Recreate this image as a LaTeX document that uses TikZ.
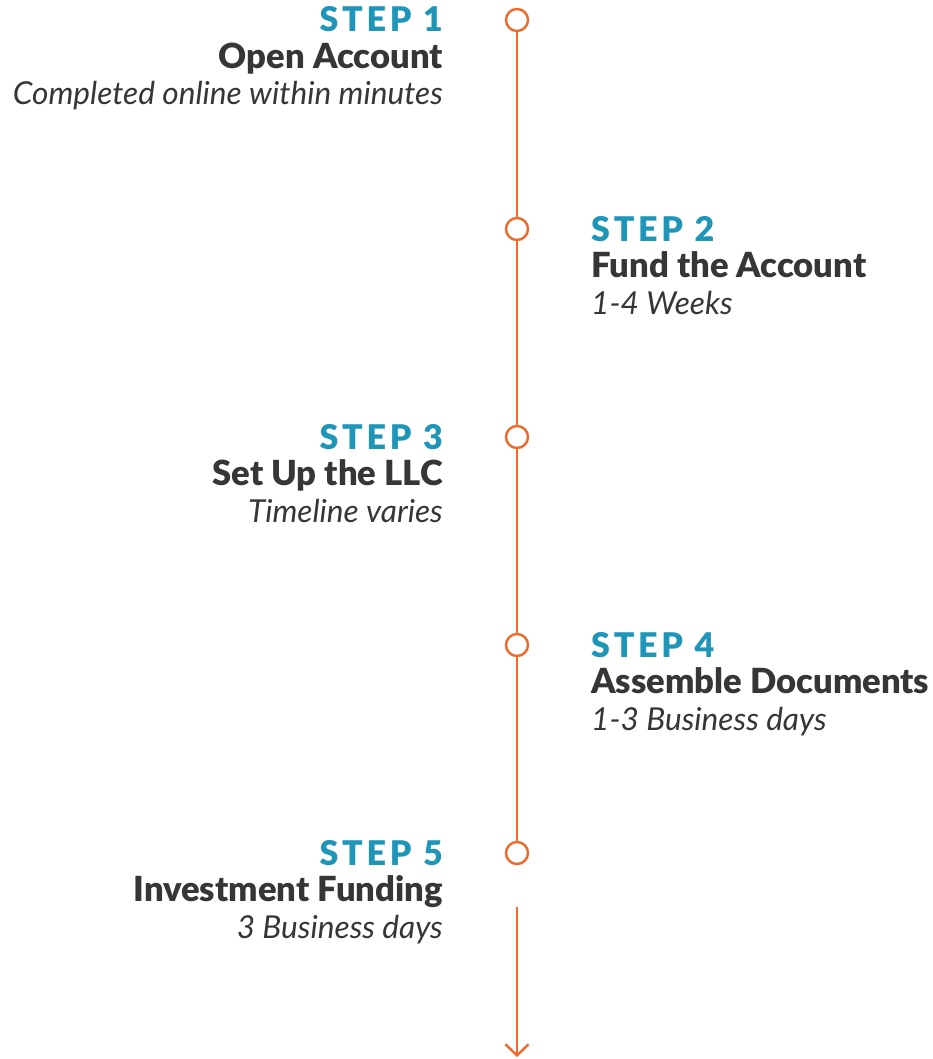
\documentclass[tikz,border=0pt]{standalone}
\usepackage{fontspec}
\setmainfont{Lato}[BoldFont={Lato Black}]
\usetikzlibrary{arrows.meta}

\definecolor{stepBlue}{RGB}{31,150,184}
\definecolor{lineOrange}{RGB}{240,104,42}
\definecolor{textGrey}{RGB}{54,54,54}

\newfontfamily\stepfont[LetterSpace=11, BoldFont={Lato Black}]{Lato}

\tikzset{
  dot/.style={circle, draw=lineOrange, fill=white, line width=2.4pt, minimum size=22pt, inner sep=0pt},
  rail/.style={draw=lineOrange, line width=2.4pt},
  leftstep/.style={anchor=base east, align=right, inner sep=0pt, text=textGrey, font=\fontsize{34.6}{36.5}\selectfont},
  rightstep/.style={anchor=base west, align=left, inner sep=0pt, text=textGrey, font=\fontsize{34.6}{36.5}\selectfont}
}
\newcommand{\steptitle}[1]{{\stepfont\fontsize{34}{36.5}\selectfont\bfseries\color{stepBlue}#1}}
\newcommand{\stepnote}[1]{{\fontsize{31.6}{36.5}\selectfont\itshape #1}}

\begin{document}
\begin{tikzpicture}[x=1pt,y=-1pt]
  \useasboundingbox (0,0) rectangle (933,1059);
  % Timeline dots
  \node[dot] (d1) at (517,20) {};
  \node[dot] (d2) at (517,229) {};
  \node[dot] (d3) at (517,437) {};
  \node[dot] (d4) at (517,645) {};
  \node[dot] (d5) at (517,853) {};
  \draw[rail] (d1) -- (d2);
  \draw[rail] (d2) -- (d3);
  \draw[rail] (d3) -- (d4);
  \draw[rail] (d4) -- (d5);
  % Arrow at the bottom
  \coordinate (arrTop) at (517,907);
  \coordinate (arrEnd) at (517,1057);
  \draw[rail, -{Straight Barb[length=11pt,width=23pt]}] (arrTop) -- (arrEnd);
  % Steps (anchored on the last line)
  \node[leftstep] (s1) at (443,105) {\steptitle{STEP 1}\\\textbf{Open Account}\\\stepnote{Completed online within minutes}};
  \node[rightstep] (s2) at (591,314) {\steptitle{STEP 2}\\\textbf{Fund the Account}\\\stepnote{1-4 Weeks}};
  \node[leftstep] (s3) at (443,522) {\steptitle{STEP 3}\\\textbf{Set Up the LLC}\\\stepnote{Timeline varies}};
  \node[rightstep] (s4) at (591,730) {\steptitle{STEP 4}\\\textbf{Assemble Documents}\\\stepnote{1-3 Business days}};
  \node[leftstep] (s5) at (443,938) {\steptitle{STEP 5}\\\textbf{Investment Funding}\\\stepnote{3 Business days}};
\end{tikzpicture}
\end{document}
